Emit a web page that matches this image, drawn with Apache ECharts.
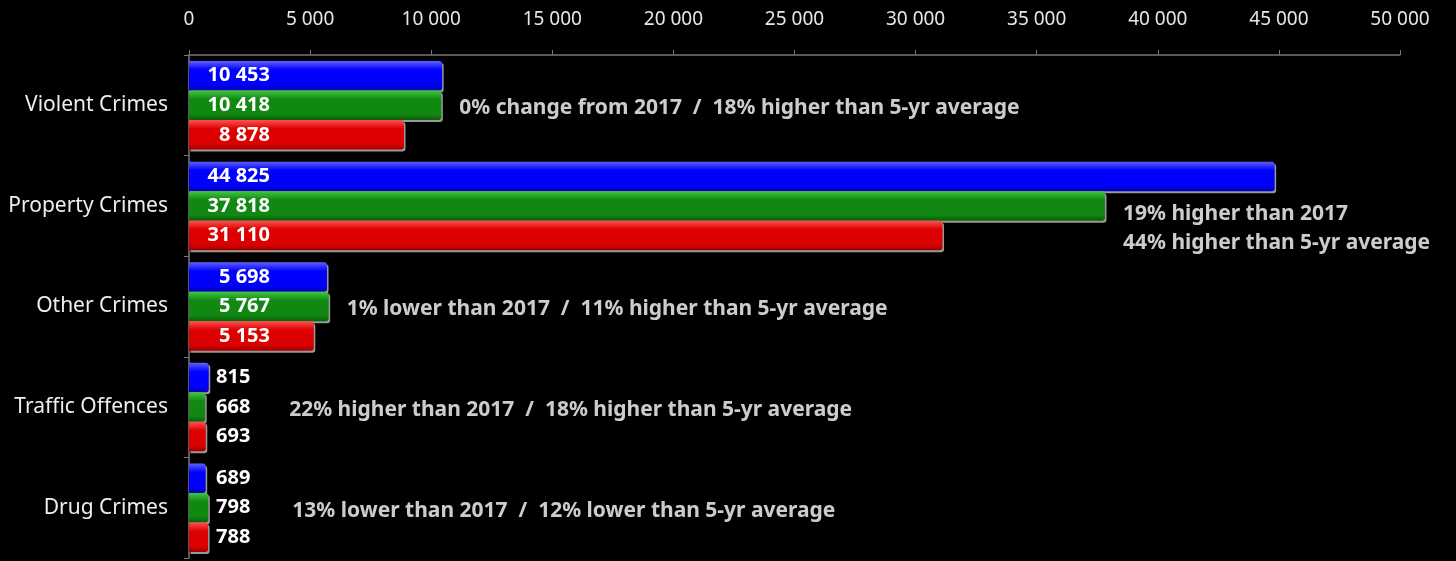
<!DOCTYPE html>
<html>
<head>
<meta charset="utf-8">
<script src="https://cdn.jsdelivr.net/npm/echarts@6/dist/echarts.min.js"></script>
<style>
html,body{margin:0;padding:0;background:#000;}
#chart{width:1456px;height:561px;}
</style>
</head>
<body>
<div id="chart"></div>
<script>
const categories = ['Violent Crimes', 'Property Crimes', 'Other Crimes', 'Traffic Offences', 'Drug Crimes'];
const seriesBlue = [10453, 44825, 5698, 815, 689];
const seriesGreen = [10418, 37818, 5767, 668, 798];
const seriesRed = [8878, 31110, 5153, 693, 788];
const annotations = [
  '0% change from 2017  /  18% higher than 5-yr average',
  '19% higher than 2017\n44% higher than 5-yr average',
  '1% lower than 2017  /  11% higher than 5-yr average',
  '22% higher than 2017  /  18% higher than 5-yr average',
  '13% lower than 2017  /  12% lower than 5-yr average'
];
const xTicks = [0, 5000, 10000, 15000, 20000, 25000, 30000, 35000, 40000, 45000, 50000];

const FONT = 'Noto Sans';
function fmt(v) { return String(v).replace(/\B(?=(\d{3})+(?!\d))/g, ' '); }

function grad(top, mid, bot) {
  return new echarts.graphic.LinearGradient(0, 0, 0, 1, [
    {offset: 0, color: top},
    {offset: 0.3, color: mid},
    {offset: 0.8, color: mid},
    {offset: 1, color: bot}
  ]);
}

function barSeries(name, values, color) {
  return {
    name: name,
    type: 'bar',
    barGap: '0%',
    barCategoryGap: '12%',
    itemStyle: {
      color: color,
      borderRadius: [0, 3, 3, 0],
      shadowColor: 'rgba(170,170,170,0.9)',
      shadowOffsetX: 1.5,
      shadowOffsetY: 2,
      shadowBlur: 0
    },
    data: values.map(v => {
      const small = v < 2000;
      return {
        value: v,
        label: {
          show: true,
          position: small ? [27, '50%'] : [81, '50%'],
          align: small ? 'left' : 'right',
          verticalAlign: 'middle',
          color: '#fff', fontFamily: FONT, fontWeight: 'bold', fontSize: 20,
          formatter: p => fmt(p.value)
        }
      };
    })
  };
}

const annoData = categories.map((c, i) => {
  const v = seriesGreen[i];
  const isMulti = annotations[i].indexOf('\n') >= 0;
  return {
    value: [v, c],
    label: {
      show: true,
      position: 'right',
      distance: 0,
      offset: [v < 2000 ? 84 : 18, isMulti ? 23 : 3],
      formatter: annotations[i],
      color: '#fff',
      fontFamily: FONT,
      fontWeight: 'bold',
      fontSize: 21,
      lineHeight: 29
    }
  };
});

const chart = echarts.init(document.getElementById('chart'));
chart.setOption({
  backgroundColor: '#000',
  animation: false,
  grid: {left: 189, right: 56, top: 55, bottom: 3, containLabel: false},
  xAxis: {
    type: 'value',
    position: 'top',
    min: 0, max: 50000, interval: 5000,
    axisLine: {show: true, lineStyle: {color: '#777', width: 1.5}},
    axisTick: {show: true, length: 5, lineStyle: {color: '#777'}},
    splitLine: {show: false},
    axisLabel: {
      color: '#e6e6e6', fontFamily: FONT, fontSize: 19, margin: 26,
      formatter: v => fmt(v)
    }
  },
  yAxis: {
    type: 'category',
    inverse: true,
    data: categories,
    axisLine: {show: true, lineStyle: {color: '#777', width: 1.5}},
    axisTick: {show: true, length: 5, alignWithLabel: false, lineStyle: {color: '#777'}},
    axisLabel: {color: '#eee', fontFamily: FONT, fontSize: 21, margin: 21}
  },
  series: [
    barSeries('Blue', seriesBlue, grad('#6060ff', '#0000ff', '#0000b0')),
    barSeries('Green', seriesGreen, grad('#40c840', '#118811', '#0a5e0a')),
    barSeries('Red', seriesRed, grad('#ff5050', '#dd0000', '#a00000')),
    {
      type: 'scatter',
      symbolSize: 0,
      silent: true,
      data: annoData,
      z: 10
    }
  ]
});
</script>
</body>
</html>
